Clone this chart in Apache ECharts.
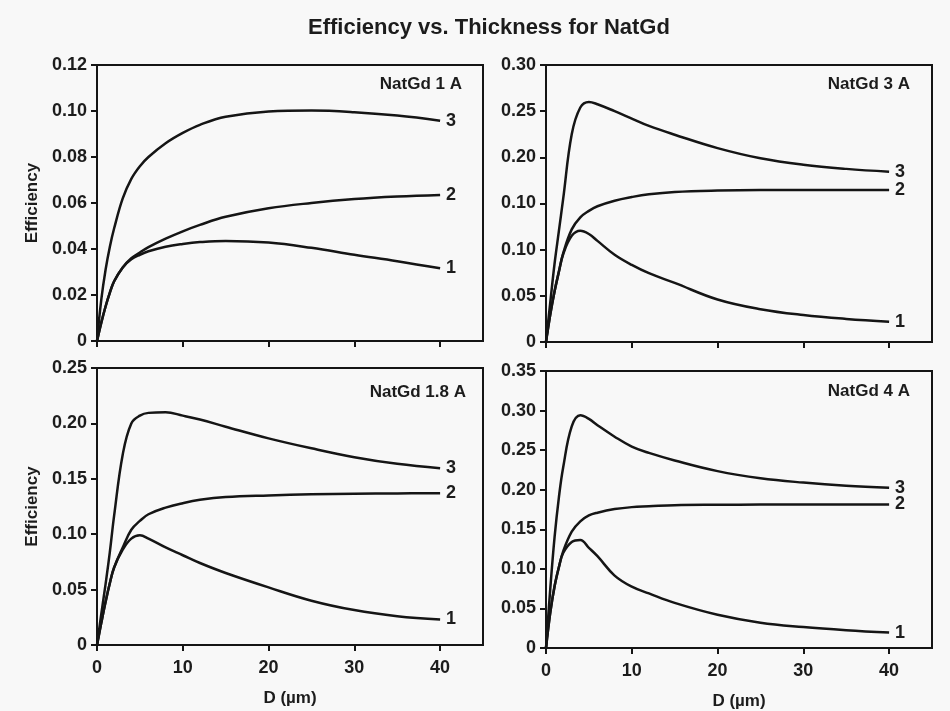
<!DOCTYPE html>
<html>
<head>
<meta charset="utf-8">
<script src="https://cdn.jsdelivr.net/npm/echarts@6/dist/echarts.min.js"></script>
<style>
html,body{margin:0;padding:0;background:#f8f8f8;}
#chart{width:950px;height:711px;}
</style>
</head>
<body>
<div id="chart"></div>
<script>
// ---- data ----
const D = [0, 0.5, 1, 1.5, 2, 3, 4, 5, 6, 8, 10, 12, 15, 20, 25, 30, 35, 40];
const seriesNames = ['1', '2', '3'];

const a1_c1 = [0, 0.008, 0.015, 0.021, 0.026, 0.032, 0.0355, 0.0375, 0.039, 0.041, 0.0422, 0.043, 0.0435, 0.0428, 0.0405, 0.0375, 0.0347, 0.0316];
const a1_c2 = [0, 0.008, 0.015, 0.021, 0.026, 0.032, 0.036, 0.0385, 0.0408, 0.0445, 0.0477, 0.0505, 0.054, 0.0577, 0.060, 0.0617, 0.0628, 0.0635];
const a1_c3 = [0, 0.018, 0.031, 0.041, 0.049, 0.062, 0.0705, 0.076, 0.080, 0.086, 0.0905, 0.094, 0.0975, 0.0998, 0.1002, 0.0995, 0.098, 0.0958];

const a3_c1 = [0, 0.03, 0.055, 0.076, 0.095, 0.115, 0.1205, 0.117, 0.1095, 0.0945, 0.0835, 0.0745, 0.064, 0.046, 0.0355, 0.0292, 0.025, 0.022];
const a3_c2 = [0, 0.03, 0.055, 0.076, 0.096, 0.122, 0.135, 0.142, 0.147, 0.153, 0.157, 0.160, 0.1625, 0.164, 0.1645, 0.1645, 0.1645, 0.1645];
const a3_c3 = [0, 0.043, 0.085, 0.12, 0.155, 0.225, 0.254, 0.260, 0.2575, 0.250, 0.242, 0.234, 0.2245, 0.210, 0.199, 0.192, 0.1875, 0.1845];

const a18_c1 = [0, 0.02, 0.039, 0.056, 0.07, 0.086, 0.096, 0.099, 0.096, 0.088, 0.081, 0.074, 0.065, 0.052, 0.040, 0.0315, 0.026, 0.023];
const a18_c2 = [0, 0.02, 0.039, 0.056, 0.07, 0.088, 0.104, 0.112, 0.118, 0.124, 0.128, 0.131, 0.1335, 0.135, 0.136, 0.1365, 0.1368, 0.137];
const a18_c3 = [0, 0.028, 0.055, 0.084, 0.117, 0.172, 0.200, 0.207, 0.2095, 0.210, 0.207, 0.2035, 0.197, 0.1865, 0.1775, 0.1695, 0.1635, 0.1595];

const a4_c1 = [0, 0.045, 0.078, 0.102, 0.12, 0.134, 0.1365, 0.1265, 0.116, 0.0915, 0.0775, 0.069, 0.057, 0.042, 0.032, 0.0265, 0.0225, 0.0195];
const a4_c2 = [0, 0.045, 0.078, 0.102, 0.122, 0.147, 0.160, 0.1675, 0.171, 0.1755, 0.178, 0.179, 0.1805, 0.181, 0.1812, 0.1813, 0.1813, 0.1813];
const a4_c3 = [0, 0.075, 0.14, 0.19, 0.228, 0.28, 0.294, 0.2895, 0.2815, 0.267, 0.2545, 0.2465, 0.237, 0.2235, 0.2145, 0.209, 0.205, 0.2025];

const xTicks = [0, 10, 20, 30, 40];
const yTicks_1A = ['0', '0.02', '0.04', '0.06', '0.08', '0.10', '0.12'];
const yTicks_3A = ['0', '0.05', '0.10', '0.10', '0.20', '0.25', '0.30'];
const yTicks_18A = ['0', '0.05', '0.10', '0.15', '0.20', '0.25'];
const yTicks_4A = ['0', '0.05', '0.10', '0.15', '0.20', '0.25', '0.30', '0.35'];

const panelTitles = ['NatGd 1 A', 'NatGd 3 A', 'NatGd 1.8 A', 'NatGd 4 A'];
const mainTitle = 'Efficiency vs. Thickness for NatGd';
const yName = 'Efficiency';
const xName = 'D (\u00b5m)';

// ---- build ----
const FONT = 'Liberation Sans, Arial, sans-serif';
const INK = '#151515';
const TXT = '#1c1c1c';

const panels = [
  { data: [a1_c1, a1_c2, a1_c3], ticks: yTicks_1A, step: 0.02, grid: { left: 97, top: 65, width: 386, height: 276 }, bottom: false, yname: true },
  { data: [a3_c1, a3_c2, a3_c3], ticks: yTicks_3A, step: 0.05, grid: { left: 546, top: 65, width: 386, height: 277 }, bottom: false, yname: false },
  { data: [a18_c1, a18_c2, a18_c3], ticks: yTicks_18A, step: 0.05, grid: { left: 97, top: 368, width: 386, height: 277 }, bottom: true, yname: true },
  { data: [a4_c1, a4_c2, a4_c3], ticks: yTicks_4A, step: 0.05, grid: { left: 546, top: 371, width: 386, height: 277 }, bottom: true, yname: false }
];
const titlePos = [
  { right: 488, top: 76 },
  { right: 40, top: 76 },
  { right: 484, top: 384 },
  { right: 40, top: 383 }
];

const grids = [], xAxes = [], yAxes = [], series = [];
const titles = [{
  text: mainTitle, left: 308, top: 17, padding: 0,
  textStyle: { fontFamily: FONT, fontSize: 22, fontWeight: 'bold', color: TXT }
}];

panels.forEach((p, i) => {
  grids.push(Object.assign({ show: true, borderColor: INK, borderWidth: 2, backgroundColor: 'transparent' }, p.grid));
  titles.push(Object.assign({
    text: panelTitles[i], padding: 0,
    textStyle: { fontFamily: FONT, fontSize: 17, fontWeight: 'bold', color: TXT }
  }, titlePos[i]));
  xAxes.push({
    type: 'value', gridIndex: i, min: 0, max: 45, interval: 10,
    name: p.bottom ? xName : '', nameLocation: 'middle', nameGap: 45,
    nameTextStyle: { fontFamily: FONT, fontSize: 17, fontWeight: 'bold', color: TXT },
    axisLine: { show: true, onZero: false, lineStyle: { color: INK, width: 2 } },
    axisTick: { show: true, inside: false, length: 6, customValues: xTicks, lineStyle: { color: INK, width: 2 } },
    axisLabel: { show: p.bottom, customValues: xTicks, margin: 14, fontFamily: FONT, fontSize: 18, fontWeight: 'bold', color: TXT },
    splitLine: { show: false }
  });
  const ymax = (p.ticks.length - 1) * p.step;
  yAxes.push({
    type: 'value', gridIndex: i, min: 0, max: +ymax.toFixed(4), interval: p.step,
    name: p.yname ? yName : '', nameLocation: 'middle', nameGap: 56, nameRotate: 90,
    nameTextStyle: { fontFamily: FONT, fontSize: 17, fontWeight: 'bold', color: TXT },
    axisLine: { show: true, onZero: false, lineStyle: { color: INK, width: 2 } },
    axisTick: { show: true, inside: false, length: 6, lineStyle: { color: INK, width: 2 } },
    axisLabel: {
      margin: 10, fontFamily: FONT, fontSize: 18, fontWeight: 'bold', color: TXT,
      formatter: (v) => p.ticks[Math.round(v / p.step)]
    },
    splitLine: { show: false }
  });
  p.data.forEach((vals, k) => {
    series.push({
      type: 'line', name: seriesNames[k], xAxisIndex: i, yAxisIndex: i,
      data: D.map((d, j) => [d, vals[j]]),
      smooth: 0.4, showSymbol: false, symbol: 'none',
      lineStyle: { color: INK, width: 2.5 },
      endLabel: {
        show: true, formatter: seriesNames[k], distance: 6,
        fontFamily: FONT, fontSize: 18, fontWeight: 'bold', color: TXT
      },
      animation: false, silent: true
    });
  });
});

const chart = echarts.init(document.getElementById('chart'), null, { renderer: 'canvas' });
chart.setOption({
  backgroundColor: '#f8f8f8',
  animation: false,
  title: titles,
  grid: grids,
  xAxis: xAxes,
  yAxis: yAxes,
  series: series
});
</script>
</body>
</html>
